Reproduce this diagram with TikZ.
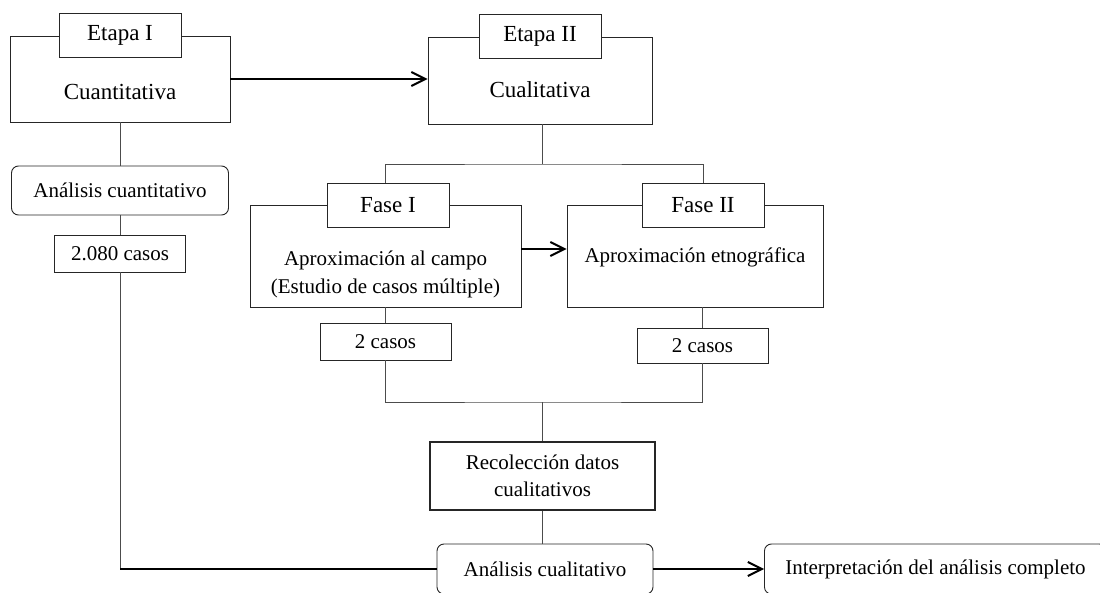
\documentclass[tikz,border=0pt]{standalone}
\usepackage{fontspec}
\setmainfont{Liberation Serif}
\usetikzlibrary{arrows.meta}
\begin{document}
\begin{tikzpicture}[x=1pt,y=-1pt,
caja/.style={draw=black!85,line width=.9pt,fill=white,inner sep=0pt,align=center,font=\fontsize{21}{27}\selectfont},
ceja/.style={caja,minimum width=122pt,minimum height=44pt,font=\fontsize{23}{28}\selectfont},
redonda/.style={caja,rounded corners=7pt},
texto/.style={align=center,inner sep=0pt,font=\fontsize{21}{28}\selectfont},
linea/.style={draw=black!70,line width=.9pt},
flecha/.style={line width=2pt,-{Straight Barb[length=14pt,width=14pt]}}]
\useasboundingbox(0,0)rectangle(1100,593);
\node[caja,minimum width=220pt,minimum height=86pt](etapa1)at(120,79){};
\node[ceja](tabetapa1)at(etapa1.north){Etapa I};
\node[texto,font=\fontsize{23}{28}\selectfont](cuanti)at(120,92){Cuantitativa};
\node[caja,minimum width=224pt,minimum height=87pt](etapa2)at(540,80.5){};
\node[ceja](tabetapa2)at(etapa2.north){Etapa II};
\node[texto,font=\fontsize{23}{28}\selectfont](cuali)at(540,90){Cualitativa};
\node[redonda,minimum width=217pt,minimum height=49pt](acuanti)at(120,190.5){Análisis cuantitativo};
\node[caja,minimum width=131pt,minimum height=37pt](casos1)at(120,253.5){2.080 casos};
\node[caja,minimum width=271pt,minimum height=102pt](fase1)at(385.5,256){};
\node[ceja](tabfase1)at(388,205){Fase I};
\node[texto](campo)at(385.5,274){Aproximación al campo\\(Estudio de casos múltiple)};
\node[caja,minimum width=256pt,minimum height=102pt](fase2)at(695,256){};
\node[ceja](tabfase2)at(703,205){Fase II};
\node[texto](etno)at(695,257){Aproximación etnográfica};
\node[caja,minimum width=131pt,minimum height=37pt](casos2)at(385.5,341.5){2 casos};
\node[caja,minimum width=131pt,minimum height=35pt](casos3)at(702.5,345.5){2 casos};
\node[caja,line width=1.3pt,minimum width=225pt,minimum height=68pt](recol)at(542.5,476){Recolección datos\\cualitativos};
\node[redonda,minimum width=216pt,minimum height=50pt](acuali)at(545,569){Análisis cualitativo};
\node[redonda,minimum width=342pt,minimum height=50pt,anchor=west](interp)at(764,569){Interpretación del análisis completo};
\coordinate(rama)at(542,164);
\coordinate(union)at(542,402);
\coordinate(esquina)at(casos1.south|-acuali.west);
\draw[flecha](etapa1.east)--(etapa1.east-|etapa2.west);
\draw[linea](etapa1.south)--(acuanti.north);
\draw[linea](acuanti.south)--(casos1.north);
\draw[linea](casos1.south)--(esquina);
\draw[line width=2pt](esquina)--(acuali.west);
\draw[linea](rama|-etapa2.south)--(rama);
\draw[linea](tabfase1.north-|casos2.north)|-(rama)-|(tabfase2.north);
\draw[flecha]([yshift=7pt]fase1.east)--([yshift=7pt]fase1.east-|fase2.west);
\draw[linea](fase1.south)--(casos2.north);
\draw[linea](casos3.north|-fase2.south)--(casos3.north);
\draw[linea](casos2.south)|-(union)-|(casos3.south);
\draw[linea](union)--(recol.north-|union);
\draw[linea](recol.south-|union)--(acuali.north-|union);
\draw[flecha](acuali.east)--(interp.west);
\end{tikzpicture}
\end{document}
